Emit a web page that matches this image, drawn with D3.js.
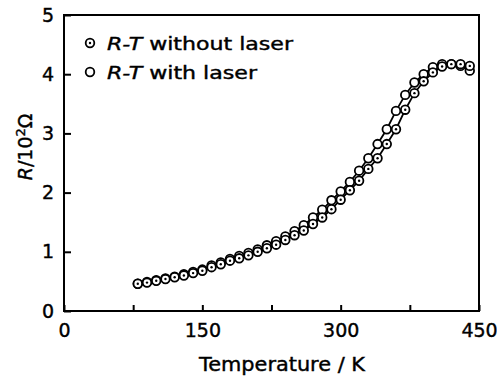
<!DOCTYPE html>
<html><head><meta charset="utf-8">
<script src="https://cdn.jsdelivr.net/npm/d3@7"></script>
<style>body{margin:0;background:#fff}text{font-family:"DejaVu Sans",sans-serif;fill:#000;stroke:#000;stroke-width:0.4px}</style>
</head><body><svg id="c" width="497" height="376"></svg>
<script>
const temps = [80,90,100,110,120,130,140,150,160,170,180,190,200,210,220,230,240,250,260,270,280,290,300,310,320,330,340,350,360,370,380,390,400,410,420,430,440];
const rWithout = [0.46,0.48,0.51,0.54,0.57,0.60,0.64,0.68,0.74,0.79,0.85,0.89,0.94,1.00,1.06,1.12,1.20,1.28,1.36,1.47,1.58,1.72,1.88,2.04,2.20,2.40,2.58,2.82,3.07,3.40,3.68,3.88,4.03,4.13,4.17,4.17,4.14];
const rWith = [0.46,0.49,0.52,0.55,0.58,0.62,0.66,0.70,0.77,0.82,0.88,0.93,0.98,1.04,1.11,1.18,1.26,1.35,1.45,1.58,1.71,1.87,2.02,2.18,2.37,2.58,2.82,3.07,3.38,3.65,3.86,4.00,4.12,4.17,4.17,4.14,4.06];
const xTicks = [0,75,150,225,300,375,450];
const xTickLabels = ["0","","150","","300","","450"];
const yTicks = [0,1,2,3,4,5];
const legendLabels = ["without laser","with laser"];

const svg = d3.select("#c");
const x = d3.scaleLinear().domain([0,450]).range([64,479]);
const y = d3.scaleLinear().domain([0,5]).range([311,15]);

svg.append("rect").attr("x",64).attr("y",15).attr("width",415).attr("height",296)
  .attr("fill","none").attr("stroke","#000").attr("stroke-width",2);

const xa = svg.append("g").attr("transform","translate(0,311)")
  .call(d3.axisBottom(x).tickValues(xTicks).tickSizeInner(-6).tickSizeOuter(0)
    .tickPadding(12).tickFormat((d,i)=>xTickLabels[i]));
xa.select(".domain").remove();
xa.selectAll("line").attr("stroke","#000").attr("stroke-width",2);
xa.selectAll("text").attr("font-size",19).attr("font-family","DejaVu Sans").attr("dy","0.75em");

const ya = svg.append("g").attr("transform","translate(64,0)")
  .call(d3.axisLeft(y).tickValues(yTicks).tickSizeInner(-7).tickSizeOuter(0)
    .tickPadding(10).tickFormat(d3.format("d")));
ya.select(".domain").remove();
ya.selectAll("line").attr("stroke","#000").attr("stroke-width",2);
ya.selectAll("text").attr("font-size",19).attr("font-family","DejaVu Sans");

const line = d3.line().x(d=>x(d[0])).y(d=>y(d[1]));
const s1 = temps.map((t,i)=>[t,rWithout[i]]);
const s2 = temps.map((t,i)=>[t,rWith[i]]);
[s1,s2].forEach(s=>svg.append("path").datum(s).attr("d",line)
  .attr("fill","none").attr("stroke","#000").attr("stroke-width",1.8));

function openMarker(g){ g.append("circle").attr("r",4.3).attr("fill","#fff").attr("stroke","#000").attr("stroke-width",1.8); }
function dotMarker(g){ openMarker(g); g.append("circle").attr("r",1.2).attr("fill","#000"); }
svg.append("g").selectAll("g").data(s2).join("g")
  .attr("transform",d=>`translate(${x(d[0])},${y(d[1])})`).each(function(){openMarker(d3.select(this));});
svg.append("g").selectAll("g").data(s1).join("g")
  .attr("transform",d=>`translate(${x(d[0])},${y(d[1])})`).each(function(){dotMarker(d3.select(this));});

const lg = svg.append("g");
[[43,dotMarker,legendLabels[0],186],[72,openMarker,legendLabels[1],150]].forEach(([yy,mk,lab,len])=>{
  const m = lg.append("g").attr("transform",`translate(90,${yy})`); mk(m);
  const t = lg.append("text").attr("x",107).attr("y",yy+7).attr("font-size",17)
    .attr("textLength",len).attr("lengthAdjust","spacingAndGlyphs");
  t.append("tspan").attr("font-style","italic").text("R-T");
  t.append("tspan").text(" "+lab);
});

svg.append("text").attr("x",282).attr("y",371).attr("text-anchor","middle").attr("font-size",19)
  .attr("textLength",166).attr("lengthAdjust","spacingAndGlyphs").text("Temperature / K");
const yt = svg.append("text").attr("transform","translate(32,147) rotate(-90)")
  .attr("text-anchor","middle").attr("font-size",19);
yt.append("tspan").attr("font-style","italic").text("R");
yt.append("tspan").text("/10");
yt.append("tspan").attr("font-size",13).attr("dy",-7).text("2");
yt.append("tspan").attr("dy",7).text("Ω");
</script></body></html>
